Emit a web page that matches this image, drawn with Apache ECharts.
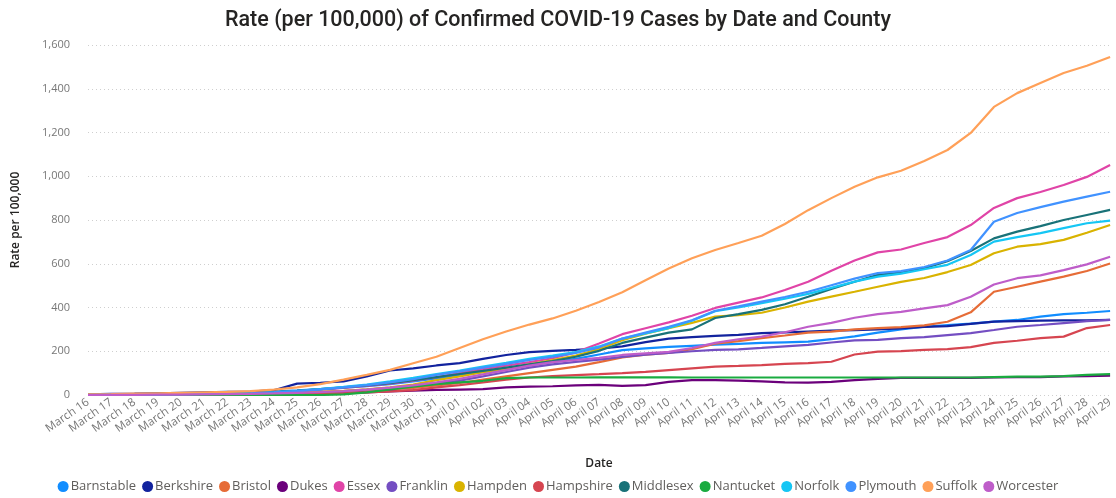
<!DOCTYPE html>
<html>
<head>
<meta charset="utf-8">
<script src="https://cdn.jsdelivr.net/npm/echarts@6/dist/echarts.min.js"></script>
<style>
  html, body { margin: 0; padding: 0; background: #fff; }
  #chart { width: 1116px; height: 498px; }
</style>
</head>
<body>
<div id="chart"></div>
<script>
// --- data ---
const dates = [
  'March 16', 'March 17', 'March 18', 'March 19', 'March 20', 'March 21', 'March 22', 'March 23',
  'March 24', 'March 25', 'March 26', 'March 27', 'March 28', 'March 29', 'March 30', 'March 31',
  'April 01', 'April 02', 'April 03', 'April 04', 'April 05', 'April 06', 'April 07', 'April 08',
  'April 09', 'April 10', 'April 11', 'April 12', 'April 13', 'April 14', 'April 15', 'April 16',
  'April 17', 'April 18', 'April 19', 'April 20', 'April 21', 'April 22', 'April 23', 'April 24',
  'April 25', 'April 26', 'April 27', 'April 28', 'April 29'
];

const counties = ['Barnstable', 'Berkshire', 'Bristol', 'Dukes', 'Essex', 'Franklin', 'Hampden',
  'Hampshire', 'Middlesex', 'Nantucket', 'Norfolk', 'Plymouth', 'Suffolk', 'Worcester'];

const colors = ['#118DFF', '#12239E', '#E66C37', '#6B007B', '#E044A7', '#744EC2', '#D9B300',
  '#D64550', '#197278', '#1AAB40', '#15C6F4', '#4092FF', '#FFA058', '#BE5DC9'];

const barnstable = [2, 3, 4, 5, 6, 8, 10, 12, 16, 21, 27, 34, 40, 50, 62, 76, 90, 105, 120, 135, 150, 165, 185, 205, 213, 220, 225, 230, 234, 238, 241, 244, 255, 268, 285, 300, 312, 320, 326, 335, 343, 358, 370, 376, 384];
const berkshire = [3, 5, 6, 8, 10, 12, 14, 16, 22, 52, 56, 62, 85, 112, 122, 135, 146, 165, 183, 196, 202, 206, 212, 222, 242, 258, 265, 270, 275, 283, 286, 290, 294, 297, 300, 305, 311, 315, 325, 335, 338, 340, 341, 341, 343];
const bristol = [0, 0, 1, 1, 2, 2, 3, 4, 6, 8, 11, 15, 20, 26, 33, 44, 55, 70, 85, 100, 115, 130, 150, 172, 184, 192, 210, 235, 246, 260, 272, 285, 290, 300, 306, 310, 318, 335, 378, 472, 495, 518, 541, 567, 601];
const dukes = [0, 0, 0, 0, 0, 0, 0, 0, 1, 2, 5, 8, 12, 17, 20, 23, 25, 27, 35, 38, 40, 44, 46, 42, 45, 60, 68, 68, 66, 62, 58, 57, 60, 68, 74, 78, 78, 78, 78, 80, 82, 82, 85, 86, 88];
const essex = [1, 2, 3, 4, 5, 6, 7, 9, 12, 17, 24, 32, 42, 52, 66, 82, 100, 118, 134, 150, 168, 195, 235, 278, 305, 332, 362, 398, 422, 446, 480, 518, 568, 615, 652, 665, 695, 722, 777, 855, 900, 928, 960, 997, 1051];
const franklin = [0, 0, 1, 1, 2, 3, 4, 5, 7, 10, 13, 18, 25, 33, 42, 52, 66, 85, 105, 125, 140, 151, 162, 174, 184, 192, 200, 206, 209, 215, 222, 229, 240, 250, 252, 260, 265, 274, 283, 297, 312, 320, 329, 338, 343];
const hampden = [0, 1, 1, 2, 2, 3, 4, 5, 7, 10, 14, 19, 26, 35, 48, 68, 85, 104, 120, 140, 160, 180, 210, 250, 280, 306, 330, 358, 365, 376, 400, 427, 450, 472, 495, 517, 535, 562, 594, 648, 678, 690, 709, 742, 777];
const hampshire = [0, 0, 0, 0, 1, 1, 1, 2, 3, 4, 6, 8, 12, 16, 22, 35, 45, 58, 70, 80, 86, 91, 95, 100, 106, 114, 122, 130, 133, 137, 142, 146, 152, 185, 198, 201, 206, 210, 219, 238, 248, 260, 267, 306, 320];
const middlesex = [1, 2, 3, 4, 5, 6, 7, 9, 13, 19, 27, 35, 44, 54, 68, 82, 96, 110, 125, 140, 155, 175, 202, 238, 262, 285, 300, 352, 370, 389, 415, 449, 485, 518, 549, 560, 580, 612, 658, 716, 747, 772, 800, 823, 846];
const nantucket = [0, 0, 0, 0, 0, 0, 0, 0, 0, 0, 0, 3, 12, 25, 38, 50, 58, 65, 77, 80, 80, 80, 81, 81, 81, 81, 80, 80, 80, 80, 80, 80, 80, 80, 80, 80, 80, 80, 80, 82, 84, 84, 86, 92, 95];
const norfolk = [1, 2, 2, 3, 4, 5, 6, 8, 12, 18, 27, 37, 48, 62, 78, 96, 112, 130, 147, 165, 180, 196, 222, 258, 282, 306, 340, 383, 400, 420, 440, 462, 490, 518, 541, 555, 575, 595, 640, 701, 722, 740, 763, 785, 797];
const plymouth = [1, 2, 2, 3, 4, 5, 6, 8, 12, 18, 26, 35, 45, 58, 72, 92, 108, 125, 142, 160, 175, 192, 218, 258, 285, 312, 342, 385, 405, 427, 448, 472, 502, 532, 557, 566, 585, 615, 663, 792, 832, 859, 884, 907, 929];
const suffolk = [3, 4, 6, 8, 10, 12, 14, 18, 25, 35, 50, 70, 92, 115, 145, 175, 215, 255, 290, 322, 350, 385, 425, 470, 525, 578, 625, 663, 695, 728, 782, 845, 900, 952, 995, 1025, 1070, 1120, 1198, 1317, 1380, 1426, 1472, 1505, 1545];
const worcester = [0, 1, 1, 2, 2, 3, 4, 5, 7, 10, 13, 18, 25, 34, 44, 58, 74, 94, 114, 134, 150, 160, 170, 183, 190, 197, 215, 238, 255, 267, 287, 312, 330, 353, 370, 380, 396, 411, 449, 505, 534, 547, 571, 597, 632];

const seriesValues = [barnstable, berkshire, bristol, dukes, essex, franklin, hampden,
  hampshire, middlesex, nantucket, norfolk, plymouth, suffolk, worcester];

const yTicks = [0, 200, 400, 600, 800, 1000, 1200, 1400, 1600];

const chart = echarts.init(document.getElementById('chart'));

const font = '"Open Sans", "Noto Sans", sans-serif';

chart.setOption({
  animation: false,
  backgroundColor: '#ffffff',
  color: colors,
  title: {
    text: 'Rate (per 100,000) of Confirmed COVID-19 Cases by Date and County',
    left: 'center',
    top: 5,
    textStyle: { fontFamily: 'Roboto, sans-serif', fontSize: 21.5, fontWeight: 500, color: '#252423' }
  },
  legend: {
    bottom: 0,
    left: 'center',
    icon: 'circle',
    itemWidth: 11,
    itemHeight: 11,
    itemGap: 6,
    textStyle: { fontFamily: font, fontSize: 13, color: '#605E5C', padding: [0, 0, 0, -3] },
    data: counties
  },
  grid: { left: 88, right: 3, top: 45, bottom: 103, containLabel: false },
  xAxis: {
    type: 'category',
    data: dates,
    boundaryGap: false,
    name: 'Date',
    nameLocation: 'middle',
    nameGap: 63,
    nameTextStyle: { fontFamily: font, fontSize: 12, fontWeight: 600, color: '#252423' },
    axisLine: { show: false },
    axisTick: { show: false },
    axisLabel: {
      interval: 0,
      rotate: 35,
      margin: 6,
      fontFamily: font,
      fontSize: 11.5,
      color: '#777777'
    }
  },
  yAxis: {
    type: 'value',
    min: yTicks[0],
    max: yTicks[yTicks.length - 1],
    interval: 200,
    name: 'Rate per 100,000',
    nameLocation: 'middle',
    nameGap: 66,
    nameTextStyle: { fontFamily: font, fontSize: 12, fontWeight: 600, color: '#252423' },
    axisLine: { show: false },
    axisTick: { show: false },
    axisLabel: {
      margin: 18,
      fontFamily: font,
      fontSize: 11,
      color: '#777777',
      formatter: v => v.toLocaleString('en-US')
    },
    splitLine: { lineStyle: { type: [1, 3], color: '#CFCFCF', width: 1 } }
  },
  series: counties.map((name, i) => ({
    name: name,
    type: 'line',
    data: seriesValues[i],
    showSymbol: false,
    symbol: 'circle',
    lineStyle: { width: 2.2 },
    emphasis: { disabled: true }
  }))
});
</script>
</body>
</html>
